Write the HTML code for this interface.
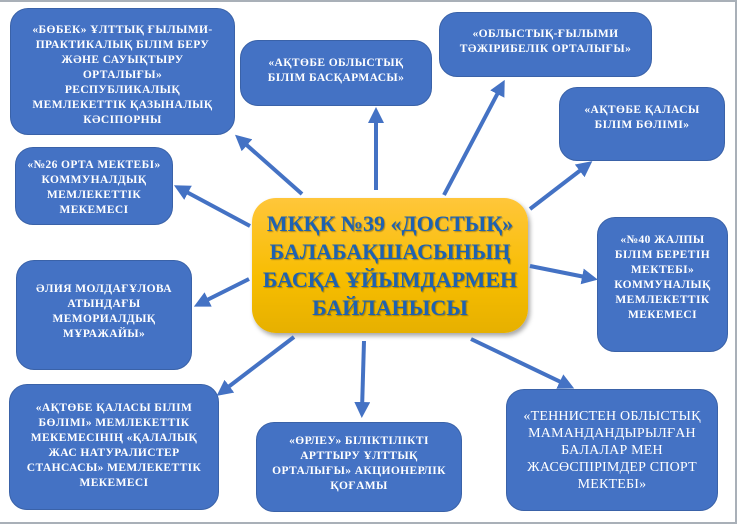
<!DOCTYPE html>
<html><head><meta charset="utf-8"><style>
body{margin:0;width:738px;height:523px;background:#fff;position:relative;overflow:hidden;font-family:"Liberation Serif",serif}
.frame{position:absolute;left:0;top:0;width:735px;height:520px;border-top:2px solid #a9b0b8;border-right:2px solid #a9b0b8;border-bottom:2px solid #a9b0b8}
.b{position:absolute;background:#4472c4;border:1px solid #3a62a8;border-radius:18px;color:#fff;font-weight:bold;font-size:11.5px;letter-spacing:0.4px;line-height:15px;text-align:center;box-sizing:border-box;display:flex;justify-content:center;padding:0 4px;white-space:nowrap}
.c{position:absolute;left:252px;top:198px;width:276px;height:135px;border-radius:24px;background:linear-gradient(#ffc63a,#f7bd00 60%,#e6b000);box-shadow:2px 3px 5px rgba(0,0,0,.35);color:#1f62b0;font-weight:bold;font-size:22px;line-height:28px;text-align:center;box-sizing:border-box;padding-top:12px;text-shadow:1px 1px 1px rgba(0,0,0,.3)}
svg{position:absolute;left:0;top:0}
</style></head><body>
<div class="frame"></div>
<div class="b" style="left:10px;top:8px;width:225px;height:127px;padding-top:14px">«БӨБЕК» ҰЛТТЫҚ ҒЫЛЫМИ-<br>ПРАКТИКАЛЫҚ БІЛІМ БЕРУ<br>ЖӘНЕ САУЫҚТЫРУ<br>ОРТАЛЫҒЫ»<br>РЕСПУБЛИКАЛЫҚ<br>МЕМЛЕКЕТТІК ҚАЗЫНАЛЫҚ<br>КӘСІПОРНЫ</div>
<div class="b" style="left:240px;top:40px;width:192px;height:66px;padding-top:15px">«АҚТӨБЕ ОБЛЫСТЫҚ<br>БІЛІМ БАСҚАРМАСЫ»</div>
<div class="b" style="left:439px;top:12px;width:213px;height:65px;padding-top:14px">«ОБЛЫСТЫҚ-ҒЫЛЫМИ<br>ТӘЖІРИБЕЛІК ОРТАЛЫҒЫ»</div>
<div class="b" style="left:559px;top:87px;width:166px;height:74px;padding-top:15px">«АҚТӨБЕ ҚАЛАСЫ<br>БІЛІМ БӨЛІМІ»</div>
<div class="b" style="left:15px;top:147px;width:158px;height:78px;padding-top:10px">«№26 ОРТА МЕКТЕБІ»<br>КОММУНАЛДЫҚ<br>МЕМЛЕКЕТТІК<br>МЕКЕМЕСІ</div>
<div class="b" style="left:597px;top:217px;width:131px;height:135px;padding-top:15px">«№40 ЖАЛПЫ<br>БІЛІМ БЕРЕТІН<br>МЕКТЕБІ»<br>КОММУНАЛЫҚ<br>МЕМЛЕКЕТТІК<br>МЕКЕМЕСІ</div>
<div class="b" style="left:16px;top:260px;width:176px;height:110px;padding-top:21px">ӘЛИЯ МОЛДАҒҰЛОВА<br>АТЫНДАҒЫ<br>МЕМОРИАЛДЫҚ<br>МҰРАЖАЙЫ»</div>
<div class="b" style="left:9px;top:384px;width:210px;height:126px;padding-top:16px">«АҚТӨБЕ ҚАЛАСЫ БІЛІМ<br>БӨЛІМІ» МЕМЛЕКЕТТІК<br>МЕКЕМЕСІНІҢ «ҚАЛАЛЫҚ<br>ЖАС НАТУРАЛИСТЕР<br>СТАНСАСЫ» МЕМЛЕКЕТТІК<br>МЕКЕМЕСІ</div>
<div class="b" style="left:256px;top:422px;width:206px;height:90px;padding-top:11px">«ӨРЛЕУ» БІЛІКТІЛІКТІ<br>АРТТЫРУ ҰЛТТЫҚ<br>ОРТАЛЫҒЫ» АКЦИОНЕРЛІК<br>ҚОҒАМЫ</div>
<div class="b" style="left:506px;top:389px;width:212px;height:122px;padding-top:18px;font-weight:normal;font-size:14px;letter-spacing:0.2px;line-height:17px">«ТЕННИСТЕН ОБЛЫСТЫҚ<br>МАМАНДАНДЫРЫЛҒАН<br>БАЛАЛАР МЕН<br>ЖАСӨСПІРІМДЕР СПОРТ<br>МЕКТЕБІ»</div>
<div class="c">МКҚК №39 «ДОСТЫҚ»<br>БАЛАБАҚШАСЫНЫҢ<br>БАСҚА ҰЙЫМДАРМЕН<br>БАЙЛАНЫСЫ</div>
<svg width="738" height="523">
<defs><marker id="a" markerWidth="4" markerHeight="4" refX="2" refY="2" orient="auto" markerUnits="strokeWidth"><path d="M0,0 L4,2 L0,4 z" fill="#4472c4"/></marker></defs>
<g stroke="#4472c4" stroke-width="4" marker-end="url(#a)">
<line x1="302" y1="194" x2="241" y2="140"/>
<line x1="250" y1="226" x2="181" y2="189"/>
<line x1="376" y1="190" x2="376" y2="115"/>
<line x1="444" y1="195" x2="501" y2="87"/>
<line x1="530" y1="209" x2="586" y2="166"/>
<line x1="530" y1="266" x2="590" y2="278"/>
<line x1="249" y1="279" x2="201" y2="303"/>
<line x1="294" y1="337" x2="223" y2="391"/>
<line x1="364" y1="341" x2="362" y2="410"/>
<line x1="471" y1="339" x2="567" y2="385"/>
</g>
</svg>
</body></html>
